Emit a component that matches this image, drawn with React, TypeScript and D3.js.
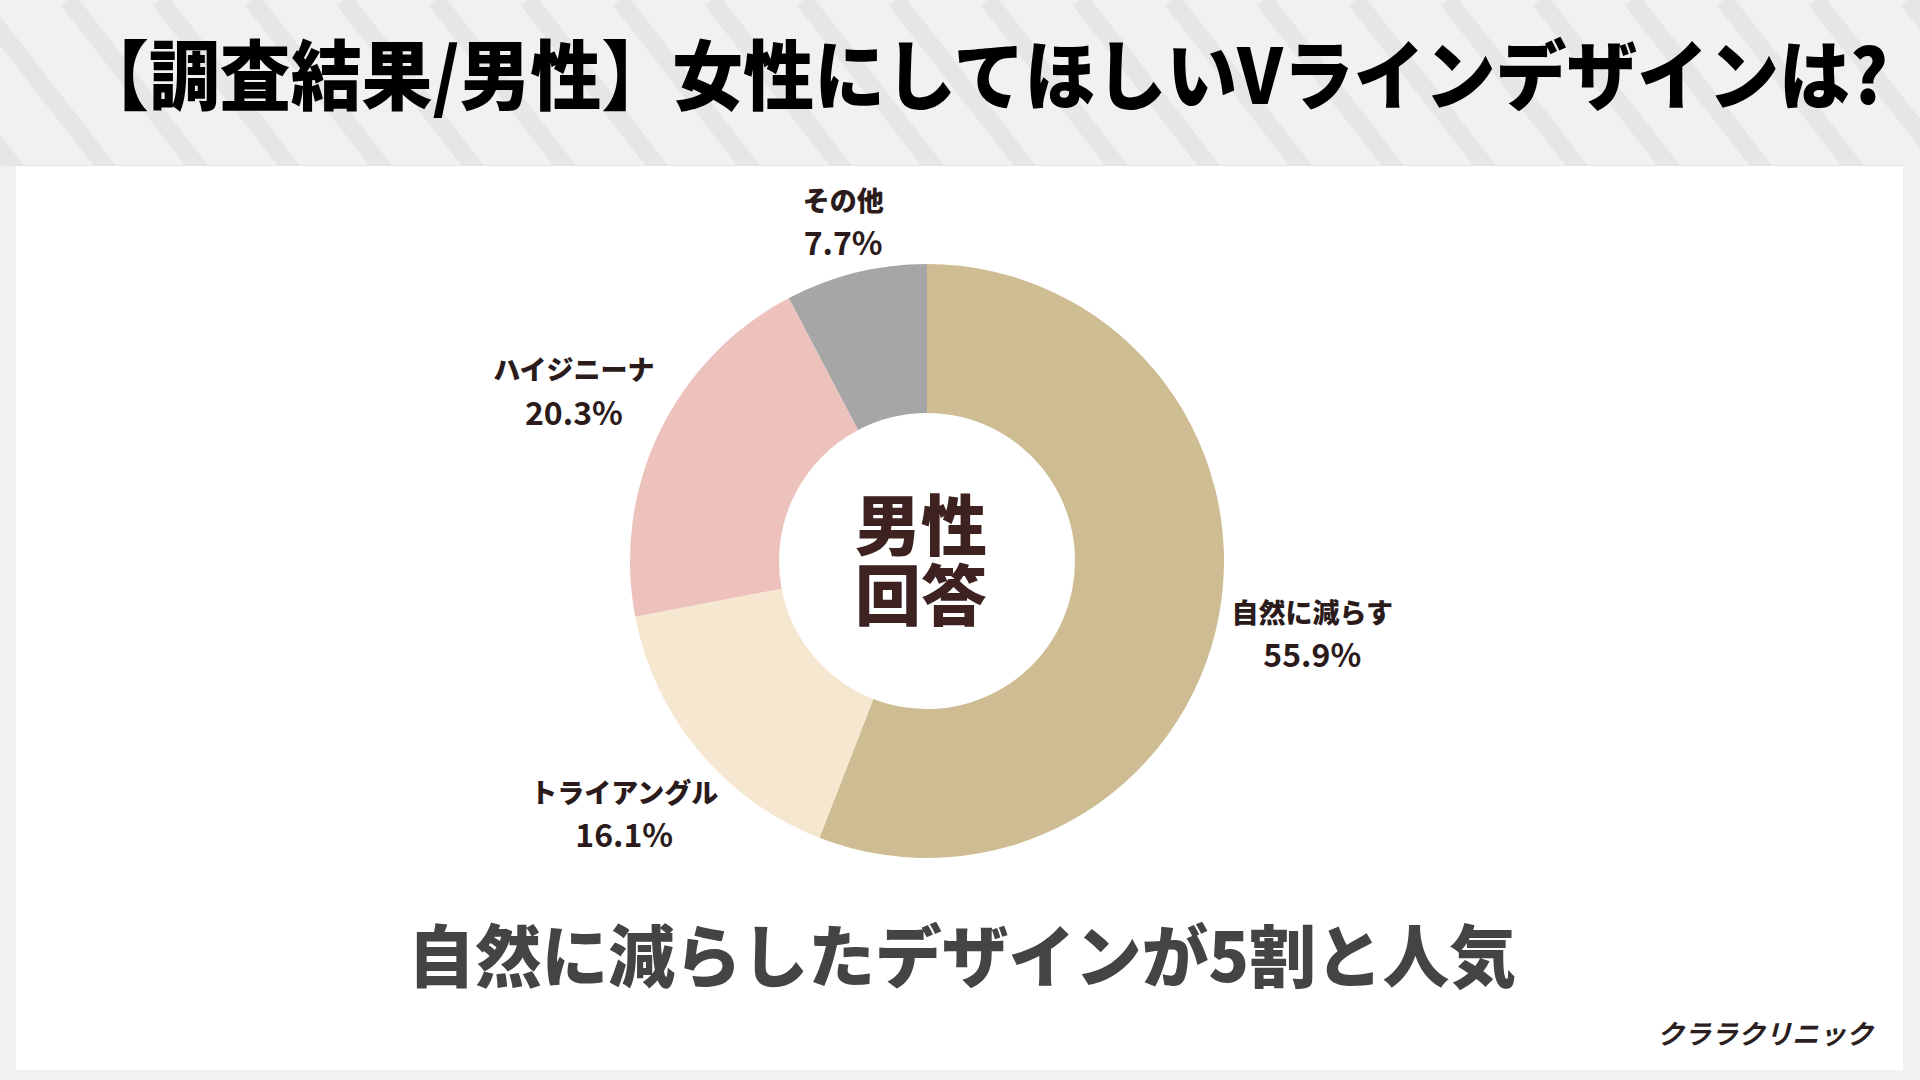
import React from "react";
import * as d3 from "d3";

const categories = ["自然に減らす", "トライアングル", "ハイジニーナ", "その他"];
const values = [55.9, 16.1, 20.3, 7.7];
const valueLabels = ["55.9%", "16.1%", "20.3%", "7.7%"];
const colors = ["#cebd93", "#f6e8d0", "#edc2bd", "#a6a6a6"];

const titleText = "【調査結果/男性】女性にしてほしいVラインデザインは?";
const centerLines = ["男性", "回答"];
const captionText = "自然に減らしたデザインが5割と人気";
const footerText = "クララクリニック";

const W = 1920;
const H = 1080;
const CX = 927;
const CY = 561;
const R_OUT = 297;
const R_IN = 148;
const LABEL_R = [392, 394, 392, 350];
const FONT = "'Noto Sans CJK JP', 'Noto Sans', sans-serif";

export default function App() {
  const pie = d3
    .pie<number>()
    .sort(null)
    .value((d) => d)
    .startAngle(0)
    .endAngle(2 * Math.PI);
  const arcs = pie(values);
  const arc = d3.arc<d3.PieArcDatum<number>>().innerRadius(R_IN).outerRadius(R_OUT);

  const stripes: number[] = d3.range(-300, W + 200, 92);

  return (
    <svg
      width={W}
      height={H}
      viewBox={`0 0 ${W} ${H}`}
      style={{ position: "absolute", left: 0, top: 0, display: "block" }}
    >
      <defs>
        <clipPath id="band">
          <rect x={0} y={0} width={W} height={166} />
        </clipPath>
      </defs>
      <rect x={0} y={0} width={W} height={H} fill="#f1f1f1" />
      <g clipPath="url(#band)">
        {stripes.map((x, i) => (
          <line
            key={i}
            x1={x}
            y1={0}
            x2={x + 140}
            y2={180}
            stroke="#e6e6e6"
            strokeWidth={18}
          />
        ))}
      </g>
      <rect x={16} y={165} width={1887} height={1} fill="#e4e4e4" />
      <rect x={16} y={166} width={1887} height={904} fill="#ffffff" />

      <text
        x={78}
        y={104}
        fontFamily={FONT}
        fontWeight={900}
        fontSize={76}
        fill="#000000"
        textLength={1810}
        lengthAdjust="spacingAndGlyphs"
      >
        {titleText}
      </text>

      <g transform={`translate(${CX},${CY})`}>
        {arcs.map((a, i) => (
          <path key={i} d={arc(a) || ""} fill={colors[i]} />
        ))}
        {arcs.map((a, i) => {
          const mid = (a.startAngle + a.endAngle) / 2;
          const r = LABEL_R[i];
          const x = Math.sin(mid) * r;
          const y = -Math.cos(mid) * r;
          return (
            <g key={"l" + i} transform={`translate(${x},${y})`} fill="#2b1b1b">
              <text
                y={-22}
                textAnchor="middle"
                dominantBaseline="central"
                fontFamily={FONT}
                fontWeight={900}
                fontSize={27}
              >
                {categories[i]}
              </text>
              <text
                y={20}
                textAnchor="middle"
                dominantBaseline="central"
                fontFamily={FONT}
                fontWeight={700}
                fontSize={32}
              >
                {valueLabels[i]}
              </text>
            </g>
          );
        })}
        <text
          textAnchor="middle"
          fontFamily={FONT}
          fontWeight={900}
          fontSize={66}
          fill="#3e2222"
        >
          {centerLines.map((t, i) => (
            <tspan key={"c" + i} x={-6} y={i === 0 ? -11 : 59}>
              {t}
            </tspan>
          ))}
        </text>
      </g>

      <text
        x={962}
        y={952}
        textAnchor="middle"
        dominantBaseline="central"
        fontFamily={FONT}
        fontWeight={900}
        fontSize={68}
        fill="#444444"
        textLength={1108}
        lengthAdjust="spacingAndGlyphs"
      >
        {captionText}
      </text>

      <text
        x={1873}
        y={1032}
        textAnchor="end"
        dominantBaseline="central"
        fontFamily={FONT}
        fontWeight={700}
        fontSize={27}
        fill="#2b1f1f"
        fontStyle="italic"
      >
        {footerText}
      </text>
    </svg>
  );
}
